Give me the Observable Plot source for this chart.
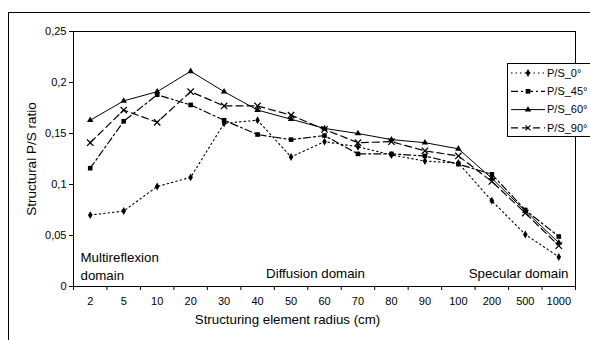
<!DOCTYPE html>
<html>
<head>
<meta charset="utf-8">
<script src="https://cdn.jsdelivr.net/npm/d3@7"></script>
<script src="https://cdn.jsdelivr.net/npm/@observablehq/plot@0.6"></script>
<style>
  html, body { margin: 0; padding: 0; background: #fff; color: #000; overflow: hidden; }
  body { width: 590px; height: 340px; position: relative; font-family: "Liberation Sans", Arial, sans-serif; }
  #outer { position: absolute; left: 8px; top: 12px; width: 640px; height: 400px; border: 1px solid #000; box-sizing: border-box; }
  #chart { position: absolute; left: 0; top: 0; }
  #legend { position: absolute; left: 507px; top: 63px; }
</style>
</head>
<body>
<div id="outer"></div>
<div id="chart"></div>
<div id="legend"></div>
<script>
const categories = ["2","5","10","20","30","40","50","60","70","80","90","100","200","500","1000"];
const seriesNames = ["P/S_0°","P/S_45°","P/S_60°","P/S_90°"];
const ps0  = [0.070,0.074,0.098,0.107,0.160,0.163,0.127,0.142,0.137,0.129,0.123,0.121,0.084,0.051,0.029];
const ps45 = [0.116,0.162,0.188,0.178,0.163,0.149,0.144,0.148,0.130,0.130,0.128,0.120,0.110,0.075,0.049];
const ps60 = [0.163,0.182,0.191,0.211,0.191,0.173,0.164,0.155,0.150,0.144,0.141,0.135,0.106,0.074,0.043];
const ps90 = [0.141,0.173,0.161,0.191,0.177,0.177,0.168,0.154,0.141,0.142,0.133,0.128,0.103,0.072,0.040];
const yTicks = [0,0.05,0.1,0.15,0.2,0.25];
const annotations = ["Multireflexion\ndomain","Diffusion domain","Specular domain"];

const styles = {
  "P/S_0°":  {dash: "1.5,3", symbol: "diamond", width: 1.1},
  "P/S_45°": {dash: "7,3,2,3", symbol: "square", width: 1.2},
  "P/S_60°": {dash: null, symbol: "triangle", width: 1},
  "P/S_90°": {dash: "7,4", symbol: "times", width: 1.2}
};
const allValues = [ps0, ps45, ps60, ps90];
const data = [];
seriesNames.forEach((s, k) => allValues[k].forEach((v, i) => data.push({series: s, i, v})));

const font = "Liberation Sans, Arial, sans-serif";
const marks = [Plot.frame({stroke: "#000", strokeWidth: 1})];
seriesNames.forEach(s => {
  const st = styles[s];
  const d = data.filter(r => r.series === s);
  marks.push(Plot.line(d, {x: "i", y: "v", stroke: "#000", strokeWidth: st.width, strokeDasharray: st.dash}));
  if (st.symbol === "times") {
    marks.push(Plot.dot(d, {x: "i", y: "v", symbol: "times", r: 3, stroke: "#000", strokeWidth: 1.3}));
  } else {
    marks.push(Plot.dot(d, {x: "i", y: "v", symbol: st.symbol, r: st.symbol === "square" ? 2.6 : 2.4, fill: "#000", stroke: "none"}));
  }
});
marks.push(
  Plot.axisY({ticks: yTicks, tickSize: 4, tickPadding: 3, fontSize: 11, tickFormat: v => String(v).replace(".", ","), label: null}),
  Plot.axisX({ticks: d3.range(-0.5, categories.length, 1), tickSize: 4, tickFormat: () => "", label: null}),
  Plot.axisX({ticks: d3.range(categories.length), tickSize: 0, tickPadding: 11, fontSize: 11, tickFormat: i => categories[i], label: null}),
  Plot.text([annotations[0]], {frameAnchor: "bottom-left", dx: 7, dy: -7, fontSize: 13.3, lineHeight: 1.28, textAnchor: "start"}),
  Plot.text([annotations[1]], {frameAnchor: "bottom", dx: -9, dy: -9, fontSize: 13.3}),
  Plot.text([annotations[2]], {frameAnchor: "bottom-right", dx: -7, dy: -9, fontSize: 13.3, textAnchor: "end"}),
  Plot.text(["Structural P/S ratio"], {frameAnchor: "left", textAnchor: "middle", dx: -42, rotate: -90, fontSize: 13.5}),
  Plot.text(["Structuring element radius (cm)"], {frameAnchor: "bottom", dx: -37, dy: 37, fontSize: 13.3})
);

const chart = Plot.plot({
  width: 590,
  height: 340,
  marginLeft: 73,
  marginTop: 31,
  marginRight: 15,
  marginBottom: 54,
  style: {fontFamily: font, color: "#000", background: "transparent", overflow: "visible"},
  x: {type: "linear", domain: [-0.5, categories.length - 0.5]},
  y: {domain: [0, 0.25]},
  marks
});
document.getElementById("chart").appendChild(chart);

// Legend
const lw = 100, lh = 74;
const leg = d3.select("#legend").append("svg").attr("width", lw).attr("height", lh).style("overflow", "visible");
leg.append("rect").attr("x", 0.5).attr("y", 0.5).attr("width", lw).attr("height", lh - 1).attr("fill", "#fff").attr("stroke", "#000");
const sym = {diamond: d3.symbolDiamond, square: d3.symbolSquare, triangle: d3.symbolTriangle};
seriesNames.forEach((s, k) => {
  const st = styles[s];
  const g = leg.append("g").attr("transform", `translate(0,${10 + k * 18.3})`);
  g.append("line").attr("x1", 4).attr("x2", 38).attr("y1", 0).attr("y2", 0)
    .attr("stroke", "#000").attr("stroke-width", st.width).attr("stroke-dasharray", st.dash);
  if (st.symbol === "times") {
    g.append("path").attr("d", "M-2.5,-2.5L2.5,2.5M-2.5,2.5L2.5,-2.5").attr("transform", "translate(21,0)").attr("stroke", "#000").attr("stroke-width", 1.3);
  } else {
    g.append("path").attr("d", d3.symbol(sym[st.symbol], st.symbol === "square" ? 22 : 18)()).attr("transform", "translate(21,0)").attr("fill", "#000");
  }
  g.append("text").attr("x", 40).attr("y", 0).attr("dy", "0.35em").attr("font-size", 11).attr("font-family", font).text(s);
});
</script>
</body>
</html>
